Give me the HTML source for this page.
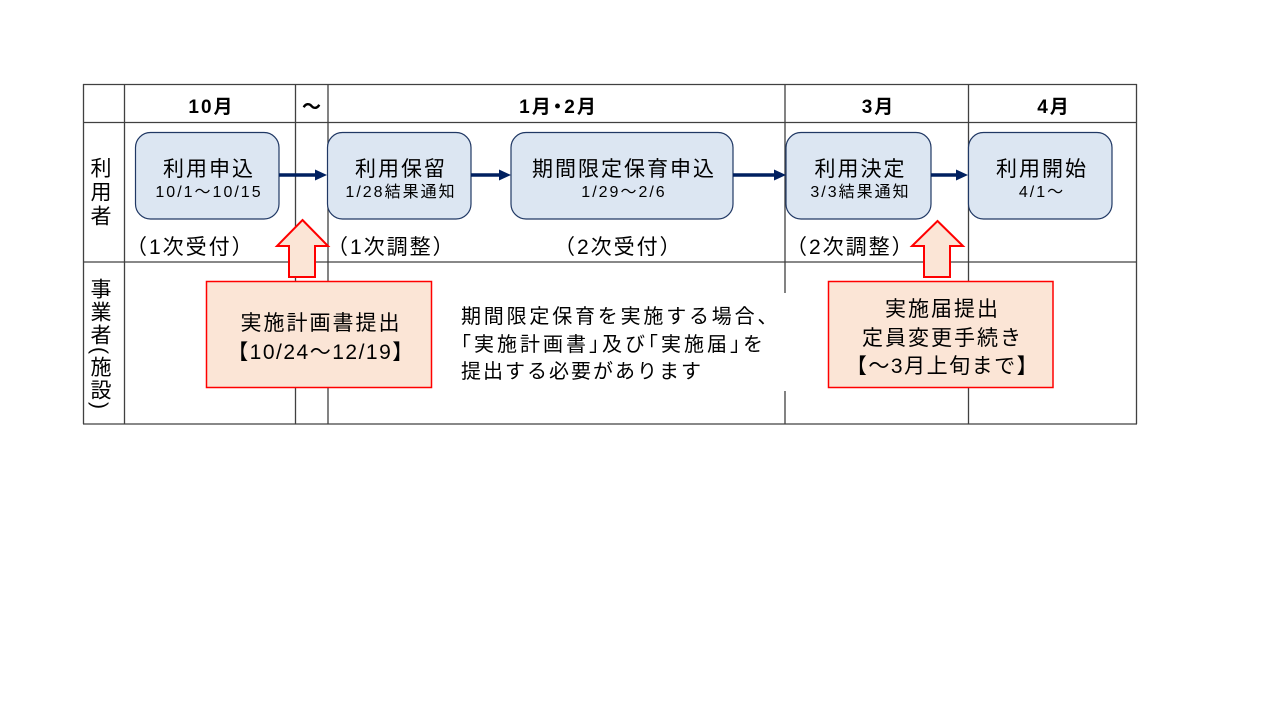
<!DOCTYPE html>
<html lang="ja">
<head>
<meta charset="utf-8">
<style>
  html,body{margin:0;padding:0;background:#fff;}
  body{width:1280px;height:720px;position:relative;overflow:hidden;
       font-family:"Liberation Sans","Noto Sans CJK JP",sans-serif;color:#000;}
  svg{position:absolute;left:0;top:0;}
  .t{position:absolute;white-space:nowrap;text-align:center;}
  .hd{font-size:19px;font-weight:bold;letter-spacing:2px;padding-left:2px;line-height:24px;top:96px;}
  .ti{font-size:21px;letter-spacing:2px;padding-left:2px;line-height:24px;top:158px;}
  .sb{font-size:16px;letter-spacing:2px;padding-left:2px;line-height:18px;top:184px;}
  .lb{font-size:21px;letter-spacing:2px;line-height:24px;top:236px;text-align:left;}
  .ob{font-size:21px;letter-spacing:2px;padding-left:2px;line-height:24px;}
  .vt{position:absolute;writing-mode:vertical-rl;font-size:21px;line-height:41px;width:41px;left:79px;white-space:nowrap;}
  .ex{position:absolute;left:461px;font-size:20px;letter-spacing:2px;line-height:24px;white-space:nowrap;}
  .h{font-feature-settings:"halt";}
</style>
</head>
<body>
<svg width="1280" height="720" viewBox="0 0 1280 720">
  <!-- grid -->
  <g stroke="#404040" stroke-width="1.3" fill="none">
    <line x1="83" y1="84.5" x2="1137" y2="84.5"/>
    <line x1="83" y1="122.5" x2="1137" y2="122.5"/>
    <line x1="83" y1="262" x2="1137" y2="262"/>
    <line x1="83" y1="424" x2="1137" y2="424"/>
    <line x1="83.5" y1="84" x2="83.5" y2="424"/>
    <line x1="124.5" y1="84" x2="124.5" y2="424"/>
    <line x1="295.5" y1="84" x2="295.5" y2="424"/>
    <line x1="328" y1="84" x2="328" y2="424"/>
    <line x1="785" y1="84" x2="785" y2="424"/>
    <line x1="968.5" y1="84" x2="968.5" y2="424"/>
    <line x1="1136.5" y1="84" x2="1136.5" y2="424"/>
  </g>
  <!-- white background of explanation text -->
  <rect x="455" y="293" width="340" height="98" fill="#fff"/>
  <!-- rounded boxes -->
  <g fill="#dce6f2" stroke="#203864" stroke-width="1.2">
    <rect x="135.5" y="132.5" width="143.5" height="86.5" rx="15" ry="15"/>
    <rect x="327.5" y="132.5" width="143.5" height="86.5" rx="15" ry="15"/>
    <rect x="511" y="132.5" width="222" height="86.5" rx="15" ry="15"/>
    <rect x="786" y="132.5" width="145" height="86.5" rx="15" ry="15"/>
    <rect x="968.5" y="132.5" width="143.5" height="86.5" rx="15" ry="15"/>
  </g>
  <!-- connector arrows -->
  <g stroke="#002060" stroke-width="3.5">
    <line x1="279" y1="175" x2="317" y2="175"/>
    <line x1="471" y1="175" x2="501" y2="175"/>
    <line x1="733" y1="175" x2="776" y2="175"/>
    <line x1="931" y1="175" x2="958" y2="175"/>
  </g>
  <g fill="#002060">
    <polygon points="315,169.5 327,175 315,180.5"/>
    <polygon points="499,169.5 511,175 499,180.5"/>
    <polygon points="774,169.5 786,175 774,180.5"/>
    <polygon points="956,169.5 968,175 956,180.5"/>
  </g>
  <!-- block arrows -->
  <g fill="#fbe5d6" stroke="#ff0000" stroke-width="2" stroke-linejoin="miter">
    <polygon points="302.5,220 328,246 315,246 315,277 289,277 289,246 277,246"/>
    <polygon points="937.5,221 963,246 950,246 950,277 924,277 924,246 912,246"/>
  </g>
  <!-- orange boxes -->
  <g fill="#fbe5d6" stroke="#ff0000" stroke-width="1.5">
    <rect x="206.5" y="281.5" width="225" height="106"/>
    <rect x="828.5" y="281.5" width="224.5" height="106"/>
  </g>
</svg>

<!-- header -->
<div class="t hd" style="left:124px;width:171px;">10月</div>
<div class="t hd" style="left:295px;width:33px;padding-left:0;letter-spacing:0;">～</div>
<div class="t hd" style="left:328px;width:457px;">1月<span class="h">・</span>2月</div>
<div class="t hd" style="left:785px;width:183px;">3月</div>
<div class="t hd" style="left:968px;width:168px;">4月</div>

<!-- left column -->
<div class="vt" style="top:157px;letter-spacing:3px;">利用者</div>
<div class="vt" style="top:278px;letter-spacing:2px;">事業者(施設)</div>

<!-- box titles -->
<div class="t ti" style="left:135px;width:144px;">利用申込</div>
<div class="t sb" style="left:135px;width:144px;">10/1～10/15</div>

<div class="t ti" style="left:327px;width:144px;">利用保留</div>
<div class="t sb" style="left:327px;width:144px;">1/28結果通知</div>

<div class="t ti" style="left:511px;width:222px;">期間限定保育申込</div>
<div class="t sb" style="left:511px;width:222px;">1/29～2/6</div>

<div class="t ti" style="left:786px;width:145px;">利用決定</div>
<div class="t sb" style="left:786px;width:145px;">3/3結果通知</div>

<div class="t ti" style="left:968px;width:144px;">利用開始</div>
<div class="t sb" style="left:968px;width:144px;">4/1～</div>

<!-- labels -->
<div class="t lb" style="left:126px;">（1次受付）</div>
<div class="t lb" style="left:327px;">（1次調整）</div>
<div class="t lb" style="left:554px;">（2次受付）</div>
<div class="t lb" style="left:786px;">（2次調整）</div>

<!-- orange box 1 -->
<div class="t ob" style="left:206px;width:226px;top:312px;">実施計画書提出</div>
<div class="t ob" style="left:206px;width:226px;top:341px;letter-spacing:1.5px;">【10/24～12/19】</div>

<!-- orange box 2 -->
<div class="t ob" style="left:828px;width:225px;top:298px;">実施届提出</div>
<div class="t ob" style="left:828px;width:225px;top:327px;">定員変更手続き</div>
<div class="t ob" style="left:828px;width:225px;top:355px;letter-spacing:1.5px;">【～3月上旬まで】</div>

<!-- explanation -->
<div class="ex" style="top:305px;letter-spacing:2.8px;">期間限定保育を実施する場合、</div>
<div class="ex" style="top:333px;letter-spacing:3px;"><span class="h">「</span>実施計画書<span class="h">」</span>及び<span class="h">「</span>実施届<span class="h">」</span>を</div>
<div class="ex" style="top:360px;">提出する必要があります</div>
</body>
</html>
